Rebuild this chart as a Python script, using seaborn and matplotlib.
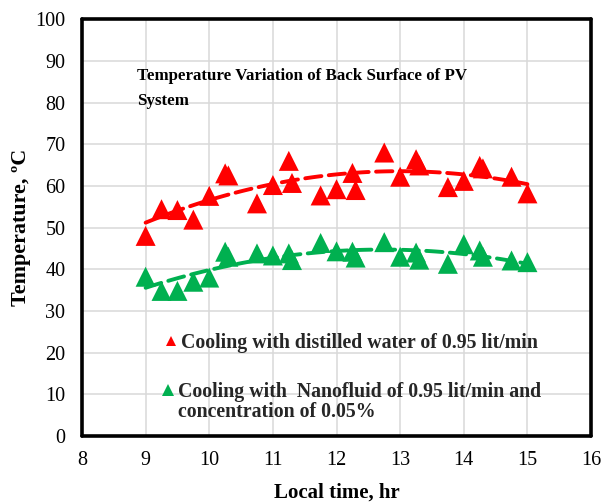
import numpy as np
import pandas as pd
import matplotlib
matplotlib.use("Agg")
import matplotlib.pyplot as plt
import seaborn as sns
from matplotlib.lines import Line2D

# ---- data ----
time_hr = [9.0, 9.25, 9.5, 9.75, 10.0, 10.25, 10.3, 10.75, 11.0, 11.25, 11.3, 11.75, 12.0,
           12.25, 12.3, 12.75, 13.0, 13.25, 13.3, 13.75, 14.0, 14.25, 14.3, 14.75, 15.0]
temp_water = [48.0, 54.4, 54.2, 51.9, 57.6, 63.0, 62.5, 55.8, 60.2, 66.0, 60.7, 57.7, 59.2,
              63.1, 59.0, 68.0, 62.2, 66.4, 64.9, 59.7, 61.2, 64.8, 64.2, 62.2, 58.2]
temp_nano = [38.2, 34.8, 34.8, 37.0, 38.0, 44.2, 43.0, 43.8, 43.3, 43.8, 42.2, 46.3, 44.3,
             44.2, 42.8, 46.5, 43.0, 44.0, 42.3, 41.3, 46.0, 44.5, 43.0, 42.1, 41.7]
label_water = "Cooling with distilled water of 0.95 lit/min"
label_nano_1 = "Cooling with  Nanofluid of 0.95 lit/min and"
label_nano_2 = "concentration of 0.05%"
title_text = "Temperature Variation of Back Surface of PV\nSystem"
x_ticks = [8, 9, 10, 11, 12, 13, 14, 15, 16]
y_ticks = [0, 10, 20, 30, 40, 50, 60, 70, 80, 90, 100]

RED = "#FF0000"
GREEN = "#00B050"

df = pd.DataFrame({"time": time_hr, "water": temp_water, "nano": temp_nano})

sns.set_theme(style="white")
plt.rcParams["font.family"] = ["Liberation Serif", "DejaVu Serif"]

fig = plt.figure(figsize=(6.05, 5.04), dpi=100)
ax = fig.add_axes([0.1355, 0.135, 0.8415, 0.827])

# grid
ax.set_axisbelow(True)
ax.grid(True, color="#d9d9d9", linewidth=1.1)

mk = 14.4
sns.scatterplot(data=df, x="time", y="water", marker="^", s=mk ** 2, color=RED,
                edgecolor="none", linewidth=0, ax=ax, zorder=3)
sns.scatterplot(data=df, x="time", y="nano", marker="^", s=mk ** 2, color=GREEN,
                edgecolor="none", linewidth=0, ax=ax, zorder=3)

line_style = dict(linewidth=2.8, linestyle=(0, (4.2, 1.9)), dash_capstyle="round", zorder=4)
sns.regplot(data=df, x="time", y="water", order=2, ci=None, scatter=False, ax=ax,
            color=RED, line_kws=line_style)
sns.regplot(data=df, x="time", y="nano", order=2, ci=None, scatter=False, ax=ax,
            color=GREEN, line_kws=line_style)

ax.set_xlim(8, 16)
ax.set_ylim(0, 100)
ax.set_xticks(x_ticks)
ax.set_yticks(y_ticks)
ax.tick_params(axis="both", direction="in", length=4, width=2, color="black",
               labelsize=14.5, labelcolor="black")
ax.tick_params(axis="x", pad=11)
ax.tick_params(axis="y", pad=12)

for sp in ax.spines.values():
    sp.set_visible(True)
    sp.set_color("black")
    sp.set_linewidth(2.6)
    sp.set_capstyle("round")
    sp.set_joinstyle("round")

ax.set_xlabel("Local time, hr", fontsize=15, fontweight="bold", labelpad=9, color="black")
ax.set_ylabel("Temperature, ºC", fontsize=15.8, fontweight="bold", labelpad=3, color="black")

ax.text(8.86, 88.4, title_text, fontsize=12.2, fontweight="bold", ha="left", va="top",
        linespacing=1.75, color="black")

# legends
h_red = Line2D([], [], linestyle="none", marker="^", markersize=7.5, color=RED,
               markeredgewidth=0)
h_green = Line2D([], [], linestyle="none", marker="^", markersize=9, color=GREEN,
                 markeredgewidth=0)
h_blank = Line2D([], [], linestyle="none", marker=None)

common = dict(frameon=False, handlelength=0.6, handletextpad=0.2,
              borderpad=0, borderaxespad=0, prop={"weight": "bold", "size": 14.3})
leg1 = ax.legend([h_red], [label_water], loc="center left",
                 bbox_to_anchor=(0.163, 0.222), **common)
ax.add_artist(leg1)
leg2 = ax.legend([h_green, h_blank], [label_nano_1, label_nano_2], loc="center left",
                 bbox_to_anchor=(0.158, 0.082), labelspacing=0.0, **common)

fig.savefig("out.png", dpi=100)
